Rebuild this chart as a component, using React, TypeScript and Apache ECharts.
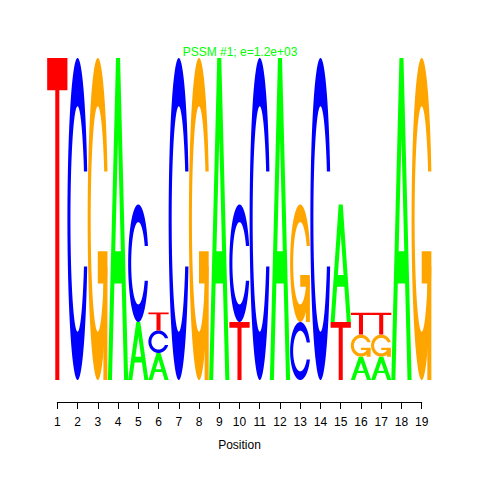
import React, { useEffect, useRef } from "react";
import * as echarts from "echarts";

// ---- data ----
const positions: number[] = [1, 2, 3, 4, 5, 6, 7, 8, 9, 10, 11, 12, 13, 14, 15, 16, 17, 18, 19];
// letters of each column, stacked from bottom to top
const stackLetters: string[] = [
  "T", "C", "G", "A", "AC", "ACT", "C", "G", "A", "TC",
  "C", "A", "CG", "C", "TA", "AGT", "AGT", "A", "G",
];
// heights (bits) of each letter, same order as stackLetters
const stackBits: number[][] = [
  [2], [2], [2], [2],
  [0.36, 0.73],
  [0.168, 0.14, 0.112],
  [2], [2], [2],
  [0.36, 0.73],
  [2], [2],
  [0.36, 0.73],
  [2],
  [0.36, 0.73],
  [0.145, 0.137, 0.135],
  [0.145, 0.137, 0.135],
  [2], [2],
];
const letterNames: string[] = ["A", "C", "G", "T"];
const letterColors: Record<string, string> = {
  A: "#00FF00",
  C: "#0000FF",
  G: "#FFA500",
  T: "#FF0000",
};
const titleText = "PSSM #1; e=1.2e+03";
const xAxisName = "Position";

// ---- letter glyphs (unit box, u: left->right, v: bottom->top), after R seqLogo ----
type Poly = { pts: number[][]; hole?: boolean };

function cShape(): number[][] {
  const n = 60;
  const a1: number[] = [];
  const a2: number[] = [];
  for (let i = 0; i < n; i++) a1.push(0.3 + Math.PI / 2 + ((Math.PI - (0.3 + Math.PI / 2)) * i) / (n - 1));
  for (let i = 0; i < n; i++) a2.push(Math.PI + ((0.5 * Math.PI) * i) / (n - 1));
  const xl = [...a1, ...a2].map((a) => 0.5 + 0.5 * Math.sin(a));
  const yl = [...a1, ...a2].map((a) => 0.5 + 0.5 * Math.cos(a));
  const ymax = Math.max(...a1.map((a) => 0.5 + 0.5 * Math.cos(a)));
  const outerX = [...xl, ...xl.slice().reverse()];
  const outerY = [...yl, ...yl.slice().reverse().map((y) => 1 - y)];
  let xi1 = a1.map((a) => 0.5 + 0.35 * Math.sin(a));
  let yi1 = a1.map((a) => 0.5 + 0.35 * Math.cos(a));
  const keep = yi1.map((y) => y <= ymax);
  xi1 = xi1.filter((_, i) => keep[i]);
  yi1 = yi1.filter((_, i) => keep[i]);
  yi1[0] = ymax;
  const xi2 = a2.map((a) => 0.5 + 0.35 * Math.sin(a));
  const yi2 = a2.map((a) => 0.5 + 0.35 * Math.cos(a));
  const xi = [...xi1, ...xi2];
  const yi = [...yi1, ...yi2];
  const innerX = [...xi, ...xi.slice().reverse()];
  const innerY = [...yi, ...yi.slice().reverse().map((y) => 1 - y)];
  const pts: number[][] = [];
  for (let i = 0; i < outerX.length; i++) pts.push([outerX[i], outerY[i]]);
  for (let i = innerX.length - 1; i >= 0; i--) pts.push([innerX[i], innerY[i]]);
  return pts;
}

const C_PTS = cShape();
const R1 = 0.5 + 0.5 * Math.sin(0.3 + Math.PI / 2);

const glyphs: Record<string, Poly[]> = {
  A: [
    { pts: [[0, 0], [0.4, 1], [0.6, 1], [1, 0], [0.8, 0], [0.68, 0.3], [0.32, 0.3], [0.2, 0]] },
    { pts: [[0.36, 0.4], [0.5, 0.75], [0.64, 0.4]], hole: true },
  ],
  C: [{ pts: C_PTS }],
  G: [
    { pts: C_PTS },
    { pts: [[R1, 0.4], [0.5, 0.4], [0.5, 0.3], [R1 - 0.2, 0.3], [R1 - 0.2, 0], [R1, 0], [R1, 0.4]] },
  ],
  T: [{ pts: [[0, 1], [1, 1], [1, 0.9], [0.6, 0.9], [0.6, 0], [0.4, 0], [0.4, 0.9], [0, 0.9]] }],
};

// build stacked rectangles: [position, bottom, top, letterIndex]
function buildData(): number[][] {
  const out: number[][] = [];
  positions.forEach((p, i) => {
    let base = 0;
    const ls = stackLetters[i];
    stackBits[i].forEach((h, k) => {
      out.push([p, base, base + h, letterNames.indexOf(ls[k])]);
      base += h;
    });
  });
  return out;
}

export default function App() {
  const ref = useRef<HTMLDivElement>(null);
  useEffect(() => {
    if (!ref.current) return;
    const chart = echarts.init(ref.current, undefined, { renderer: "svg" });
    const font = "'Liberation Sans', Arial, Helvetica, sans-serif";
    chart.setOption({
      animation: false,
      backgroundColor: "#FFFFFF",
      title: {
        text: titleText,
        left: "center",
        top: 46,
        padding: 0,
        textStyle: { color: "#00FF00", fontSize: 12, fontWeight: "normal", fontFamily: font },
      },
      grid: { left: 57.3, right: 58.3, top: 58, bottom: 100, containLabel: false },
      xAxis: {
        type: "value",
        min: 1,
        max: 19,
        interval: 1,
        offset: 22,
        axisLine: { show: true, onZero: false, lineStyle: { color: "#000000", width: 1 } },
        axisTick: { show: true, length: 7, inside: false, lineStyle: { color: "#000000", width: 1 } },
        axisLabel: {
          show: true,
          margin: 14,
          color: "#000000",
          fontSize: 12,
          fontFamily: font,
          showMinLabel: true,
          showMaxLabel: true,
        },
        splitLine: { show: false },
        name: xAxisName,
        nameLocation: "middle",
        nameGap: 37,
        nameTextStyle: { color: "#000000", fontSize: 12, fontFamily: font },
      },
      yAxis: { type: "value", min: 0, max: 2, show: false, splitLine: { show: false } },
      series: [
        {
          type: "custom",
          clip: false,
          encode: { x: 0, y: [1, 2] },
          data: buildData(),
          renderItem: (params: any, api: any) => {
            const pos = api.value(0);
            const y0 = api.value(1);
            const y1 = api.value(2);
            const letter = letterNames[api.value(3)];
            const bl = api.coord([pos - 0.5, y0]);
            const tr = api.coord([pos + 0.5, y1]);
            const map = (pts: number[][]) =>
              pts.map(([u, v]) => [bl[0] + u * (tr[0] - bl[0]), bl[1] + v * (tr[1] - bl[1])]);
            const color = letterColors[letter];
            return {
              type: "group",
              children: glyphs[letter].map((g) => ({
                type: "polygon",
                shape: { points: map(g.pts) },
                style: { fill: g.hole ? "#FFFFFF" : color, stroke: null },
              })),
            };
          },
        },
      ],
    });
    return () => chart.dispose();
  }, []);
  return (
    <div
      ref={ref}
      style={{ position: "fixed", left: 0, top: 0, width: 480, height: 480, background: "#FFFFFF" }}
    />
  );
}
